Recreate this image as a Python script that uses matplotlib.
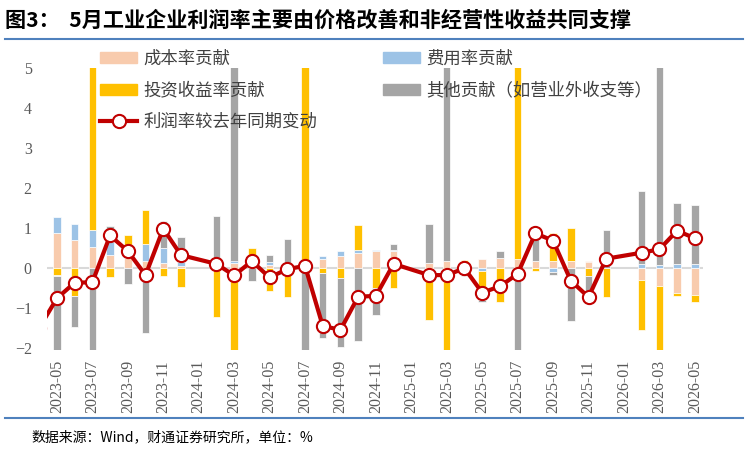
import numpy as np
import matplotlib
matplotlib.use("Agg")
import matplotlib.pyplot as plt
from matplotlib.lines import Line2D
from matplotlib.patches import Patch

CJK = ['Noto Sans CJK SC', 'DejaVu Sans']
SERIF = ['Liberation Serif', 'DejaVu Serif']

months = ["2023-04", "2023-05", "2023-06", "2023-07", "2023-08", "2023-09", "2023-10", "2023-11", "2023-12",
          "2024-02", "2024-03", "2024-04", "2024-05", "2024-06", "2024-07", "2024-08", "2024-09", "2024-10",
          "2024-11", "2024-12", "2025-02", "2025-03", "2025-04", "2025-05", "2025-06", "2025-07", "2025-08",
          "2025-09", "2025-10", "2025-11", "2025-12", "2026-02", "2026-03", "2026-04", "2026-05"]
cost = [np.nan, 0.875, 0.71, 0.525, 0.33, 0.25, 0.18, 0.125, 0.06,
        0.17, 0.125, 0.10, 0.08, 0.0, 0.0, 0.225, 0.31, 0.375,
        0.42, 0.42, 0.14, 0.18, 0.06, 0.23, 0.25, 0.23, 0.18,
        0.18, 0.18, 0.17, 0.0, -0.29, -0.44, -0.625, -0.67]
expense = [np.nan, 0.42, 0.39, 0.43, 0.33, 0.08, 0.42, 0.375, 0.11,
           0.0, 0.07, 0.03, 0.08, 0.0, 0.0, 0.07, 0.125, 0.08,
           0.04, 0.04, 0.0, 0.0, 0.0, -0.07, 0.0, 0.0, 0.0,
           -0.09, 0.0, 0.0, 0.0, 0.10, 0.08, 0.10, 0.10]
invest = [np.nan, -0.18, -0.69, 6.0, -0.23, 0.50, 0.86, -0.20, -0.46,
          -1.21, -6.40, 0.37, -0.56, -0.73, 6.0, -0.11, -0.25, 0.64,
          -0.50, -0.50, -1.29, -6.0, 0.15, -0.71, -0.85, 6.0, -0.06,
          0.70, 0.84, -0.19, -0.71, -1.25, -4.60, -0.07, -0.17]
other = [np.nan, -1.86, -0.77, -7.30, 0.39, -0.40, -1.63, 0.69, 0.62,
         1.14, 6.0, -0.33, 0.17, 0.72, -5.94, -1.62, -1.725, -1.82,
         -0.67, 0.15, 0.97, 5.65, -0.20, -0.07, 0.17, -6.37, 0.755,
         -0.08, -1.33, -0.68, 0.95, 1.82, 5.50, 1.525, 1.48]
profit_change = [-1.49, -0.75, -0.36, -0.35, 0.82, 0.43, -0.17, 0.99, 0.33,
                 0.11, -0.18, 0.18, -0.23, -0.02, 0.06, -1.44, -1.54, -0.71,
                 -0.69, 0.11, -0.17, -0.17, 0.0, -0.61, -0.45, -0.14, 0.875,
                 0.69, -0.31, -0.72, 0.24, 0.39, 0.475, 0.94, 0.75]

tick_labels = ["2023-05", "2023-07", "2023-09", "2023-11", "2024-01", "2024-03", "2024-05", "2024-07",
               "2024-09", "2024-11", "2025-01", "2025-03", "2025-05", "2025-07", "2025-09", "2025-11",
               "2026-01", "2026-03", "2026-05"]

series_names = ["成本率贡献", "费用率贡献", "投资收益率贡献", "其他贡献（如营业外收支等）"]
colors = ["#F8CBAD", "#9DC3E6", "#FFC000", "#A5A5A5"]
line_name = "利润率较去年同期变动"


def midx(s):
    y, m = s.split("-")
    return (int(y) - 2023) * 12 + int(m) - 4


x = np.array([midx(m) for m in months], dtype=float)
tick_pos = [midx(t) for t in tick_labels]

fig = plt.figure(figsize=(7.48, 4.49), dpi=100)
W, H = 748, 449
ax = fig.add_axes([47 / W, 1 - 350.3 / H, (703 - 47) / W, (350.3 - 68.3) / H])

data = [np.array(cost), np.array(expense), np.array(invest), np.array(other)]
valid = np.isfinite(data[0])
pos_base = np.zeros(len(x))
neg_base = np.zeros(len(x))
for vals, col, name in zip(data, colors, series_names):
    v = np.where(valid, vals, 0.0)
    bottoms = np.where(v >= 0, pos_base, neg_base)
    ax.bar(x[valid], v[valid], bottom=bottoms[valid], width=0.42, color=col,
           edgecolor="white", linewidth=0.5, zorder=2, label=name)
    pos_base = pos_base + np.where(v > 0, v, 0)
    neg_base = neg_base + np.where(v < 0, v, 0)

ax.axhline(0, color="#D9D9D9", lw=1.5, zorder=1)
ax.plot(x, profit_change, color="#C00000", lw=3.0, marker="o", ms=9.5,
        mfc="white", mec="#C00000", mew=1.5, zorder=4, label=line_name)

ax.set_xlim(0.44, 37.46)
ax.set_ylim(-2.05, 5.0)
ax.set_yticks(range(-2, 6))
ax.set_xticks(tick_pos)
ax.set_xticklabels(tick_labels, rotation=90, family=SERIF, fontsize=11.5, color="#595959")
for lab in ax.get_yticklabels():
    lab.set_family(SERIF)
ax.tick_params(axis="y", length=0, pad=11, labelsize=11.5, labelcolor="#595959")
ax.tick_params(axis="x", length=0, pad=7)
for sp in ax.spines.values():
    sp.set_visible(False)
ax.patch.set_alpha(0)

handles = [Patch(color=colors[0]), Patch(color=colors[2]),
           Line2D([], [], color="#C00000", lw=3.0, marker="o", ms=9.5, mfc="white", mec="#C00000", mew=1.5),
           Patch(color=colors[1]), Patch(color=colors[3])]
labels = [series_names[0], series_names[2], line_name, series_names[1], series_names[3]]
fig.legend(handles, labels, ncol=2, loc="upper left", bbox_to_anchor=(100 / W, 1 - 50 / H),
           frameon=False, prop={"family": CJK, "size": 12.5}, handlelength=2.15,
           handleheight=0.6, handletextpad=0.35, columnspacing=3.8, labelspacing=0.78,
           borderpad=0, borderaxespad=0, labelcolor="#404040")

fig.text(5 / W, 1 - 20 / H, "图3：  5月工业企业利润率主要由价格改善和非经营性收益共同支撑",
         family=CJK, fontsize=15.2, fontweight="bold", va="center", ha="left", color="black")
fig.add_artist(Line2D([5 / W, 743 / W], [1 - 39 / H, 1 - 39 / H], color="#4F81BD", lw=1.5))
fig.add_artist(Line2D([5 / W, 743 / W], [1 - 418 / H, 1 - 418 / H], color="#4F81BD", lw=1.5))
fig.text(31 / W, 1 - 437 / H, "数据来源：Wind，财通证券研究所，单位：%", family=CJK,
         fontsize=10, va="center", ha="left", color="black")

fig.savefig("out.png", dpi=100)
